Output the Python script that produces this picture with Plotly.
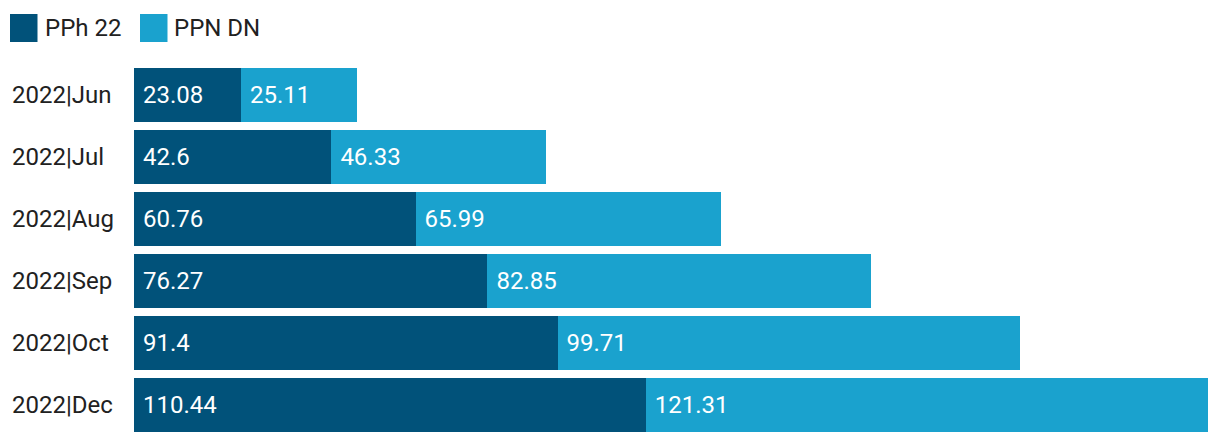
import plotly.graph_objects as go

categories = ["2022|Jun", "2022|Jul", "2022|Aug", "2022|Sep", "2022|Oct", "2022|Dec"]
pph22 = [23.08, 42.6, 60.76, 76.27, 91.4, 110.44]
ppndn = [25.11, 46.33, 65.99, 82.85, 99.71, 121.31]
series_names = ["PPh 22", "PPN DN"]
colors = ["#01527A", "#1AA2CE"]

# page has an 8px body margin; layout below is in figure pixels
W, H = 1220, 444
L, R, T, B = 0, 20, 56, 16
plot_left_px = 126
FONT = "Roboto"
FS_BAR = 24
FS = 24

fig = go.Figure()
for name, vals, col in zip(series_names, [pph22, ppndn], colors):
    fig.add_trace(go.Bar(
        y=categories, x=vals, name=name, orientation="h",
        marker=dict(color=col, line=dict(width=0)),
        text=[f"\u00a0{v:g}" for v in vals],
        textposition="inside", insidetextanchor="start",
        textfont=dict(color="white", family=FONT, size=FS_BAR),
        showlegend=False, hoverinfo="x+y+name",
    ))

totals = [a + b for a, b in zip(pph22, ppndn)]
pw = W - L - R
ph = H - T - B

fig.update_layout(
    width=W, height=H,
    margin=dict(l=L, r=R, t=T, b=B),
    barmode="stack", bargap=0.129,
    plot_bgcolor="white", paper_bgcolor="white",
    font=dict(family=FONT, size=FS, color="#212121"),
    xaxis=dict(range=[0, max(totals)], domain=[(plot_left_px - L) / pw, 1],
               visible=False, fixedrange=True),
    yaxis=dict(categoryorder="array", categoryarray=categories, autorange="reversed",
               anchor="free", position=0, ticklabelposition="inside",
               showgrid=False, showline=False, zeroline=False, ticks="",
               tickfont=dict(family=FONT, size=FS, color="#212121")),
    uniformtext=dict(mode=False),
)

# custom legend with large squares
leg_items = [(2, 35), (132, 164)]
for (sx, tx), name, col in zip(leg_items, series_names, colors):
    fig.add_shape(type="rect", xref="paper", yref="paper",
                  x0=(sx - L) / pw, x1=(sx + 27.5 - L) / pw,
                  y0=(H - B - 34) / ph, y1=(H - B - 6) / ph,
                  fillcolor=col, line=dict(width=0))
    fig.add_annotation(xref="paper", yref="paper", x=(tx - L) / pw, y=(H - B - 20) / ph,
                       text=name, showarrow=False, xanchor="left", yanchor="middle",
                       font=dict(family=FONT, size=FS, color="#212121"))

fig.write_html("out.html")
